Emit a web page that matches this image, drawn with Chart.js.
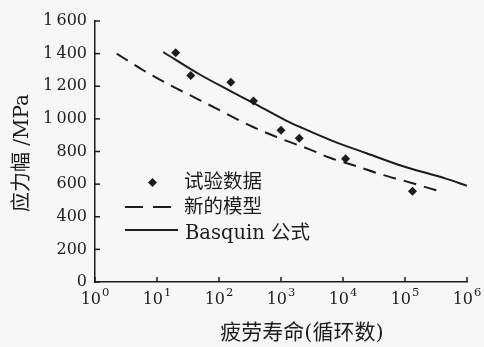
<!DOCTYPE html>
<html>
<head>
<meta charset="utf-8">
<script src="https://cdn.jsdelivr.net/npm/chart.js@4"></script>
<style>
    html, body { margin: 0; padding: 0; background: #f7f7f7; }
    #wrap { width: 484px; height: 347px; position: relative; }
</style>
</head>
<body>
<div id="wrap"><canvas id="sn-chart"></canvas></div>
<script>
// Test data (fatigue life, stress amplitude)
const testLife = [20, 35, 155, 360, 1000, 1970, 11000, 132000];
const testStress = [1405, 1266, 1225, 1109, 930, 881, 756, 557];

// New model (dashed)
const modelLife = [2.24, 6.0, 14.5, 34, 63, 355, 1230, 2690, 6300, 16200, 40700, 97700, 251000, 324000];
const modelStress = [1400, 1298, 1217, 1145, 1094, 950, 865, 818, 760, 711, 660, 620, 574, 562];

// Basquin formula (solid)
const basquinLife = [12.6, 49, 151, 355, 1230, 2040, 6900, 24000, 83000, 468000, 1000000];
const basquinStress = [1410, 1272, 1172, 1098, 988, 950, 864, 789, 716, 632, 590];

const xTicks = [1, 10, 100, 1000, 10000, 100000, 1000000];
const xTickExp = ['0', '1', '2', '3', '4', '5', '6'];
const yTicks = [0, 200, 400, 600, 800, 1000, 1200, 1400, 1600];

const legendLabels = ['试验数据', '新的模型', 'Basquin 公式'];
const xTitle = '疲劳寿命(循环数)';
const yTitle = '应力幅 /MPa';

const INK = '#1c1c1c';
const SERIF = '"DejaVu Serif", "Noto Sans CJK SC", serif';

function toPoints(xs, ys) {
    return xs.map((x, i) => ({ x: x, y: ys[i] }));
}

// inward tick marks, power-of-ten labels, axis titles and the in-plot legend
const decorPlugin = {
    id: 'decor',
    afterDraw(chart) {
        const ctx = chart.ctx;
        const xs = chart.scales.x;
        const ys = chart.scales.y;
        const area = chart.chartArea;

        ctx.save();
        ctx.strokeStyle = INK;
        ctx.fillStyle = INK;
        ctx.lineWidth = 1.5;
        xTicks.forEach(v => {
            const px = xs.getPixelForValue(v);
            ctx.beginPath();
            ctx.moveTo(px, area.bottom);
            ctx.lineTo(px, area.bottom - 5);
            ctx.stroke();
        });
        yTicks.forEach(v => {
            const py = ys.getPixelForValue(v);
            ctx.beginPath();
            ctx.moveTo(area.left, py);
            ctx.lineTo(area.left + 5, py);
            ctx.stroke();
        });

        // x tick labels: 10 with raised exponent
        ctx.textBaseline = 'alphabetic';
        ctx.textAlign = 'left';
        xTicks.forEach((v, i) => {
            const px = xs.getPixelForValue(v);
            ctx.font = '16px ' + SERIF;
            const wBase = ctx.measureText('10').width;
            ctx.font = '11.5px ' + SERIF;
            const wExp = ctx.measureText(xTickExp[i]).width;
            const x0 = px - (wBase + wExp + 1) / 2;
            ctx.font = '16px ' + SERIF;
            ctx.fillText('10', x0, area.bottom + 22);
            ctx.font = '11.5px ' + SERIF;
            ctx.fillText(xTickExp[i], x0 + wBase + 1, area.bottom + 14);
        });

        // axis titles
        ctx.textAlign = 'center';
        ctx.textBaseline = 'middle';
        ctx.font = '21px ' + SERIF;
        ctx.fillText(xTitle, 302, 334);

        ctx.save();
        ctx.font = '20px ' + SERIF;
        ctx.translate(23, 153);
        ctx.rotate(-Math.PI / 2);
        ctx.fillText(yTitle, 0, 0);
        ctx.restore();

        // legend
        ctx.textAlign = 'left';
        ctx.font = '19.5px ' + SERIF;

        // diamond marker
        ctx.beginPath();
        ctx.moveTo(152.5, 178);
        ctx.lineTo(157, 182.5);
        ctx.lineTo(152.5, 187);
        ctx.lineTo(148, 182.5);
        ctx.closePath();
        ctx.fill();
        ctx.fillText(legendLabels[0], 184, 183);

        ctx.lineWidth = 2;
        ctx.setLineDash([18, 10]);
        ctx.beginPath();
        ctx.moveTo(125, 207);
        ctx.lineTo(174, 207);
        ctx.stroke();
        ctx.setLineDash([]);
        ctx.fillText(legendLabels[1], 184, 208);

        ctx.beginPath();
        ctx.moveTo(125, 230);
        ctx.lineTo(178, 230);
        ctx.stroke();
        ctx.fillText(legendLabels[2], 185, 234);

        ctx.restore();
    }
};

const chart = new Chart(document.getElementById('sn-chart'), {
    type: 'scatter',
    data: {
        datasets: [
            {
                label: legendLabels[0],
                data: toPoints(testLife, testStress),
                pointStyle: 'rectRot',
                pointRadius: 4.5,
                backgroundColor: INK,
                borderColor: INK,
                borderWidth: 0,
                showLine: false,
                order: 0
            },
            {
                label: legendLabels[1],
                data: toPoints(modelLife, modelStress),
                showLine: true,
                borderColor: INK,
                borderWidth: 2,
                borderDash: [13, 8],
                pointRadius: 0,
                cubicInterpolationMode: 'monotone',
                order: 1
            },
            {
                label: legendLabels[2],
                data: toPoints(basquinLife, basquinStress),
                showLine: true,
                borderColor: INK,
                borderWidth: 2,
                pointRadius: 0,
                cubicInterpolationMode: 'monotone',
                order: 2
            }
        ]
    },
    options: {
        responsive: true,
        maintainAspectRatio: false,
        animation: false,
        layout: { padding: { left: 0, right: 17, top: 21, bottom: 0 } },
        plugins: {
            legend: { display: false },
            tooltip: { enabled: false }
        },
        scales: {
            x: {
                type: 'logarithmic',
                min: 1,
                max: 1000000,
                afterBuildTicks: s => { s.ticks = xTicks.map(v => ({ value: v })); },
                afterFit: s => { s.height = 65; },
                grid: { display: false, drawTicks: false },
                border: { display: true, color: INK, width: 1.5 },
                ticks: { display: false }
            },
            y: {
                min: 0,
                max: 1600,
                afterBuildTicks: s => { s.ticks = yTicks.map(v => ({ value: v })); },
                afterFit: s => { s.width = 95; },
                grid: { display: false, drawTicks: false },
                border: { display: true, color: INK, width: 1.5 },
                ticks: {
                    padding: 8,
                    color: INK,
                    font: { family: SERIF, size: 16 },
                    callback: (v) => {
                        const s = String(v);
                        return v >= 1000 ? s[0] + '\u2009' + s.slice(1) : s;
                    }
                }
            }
        }
    },
    plugins: [decorPlugin]
});
</script>
</body>
</html>
